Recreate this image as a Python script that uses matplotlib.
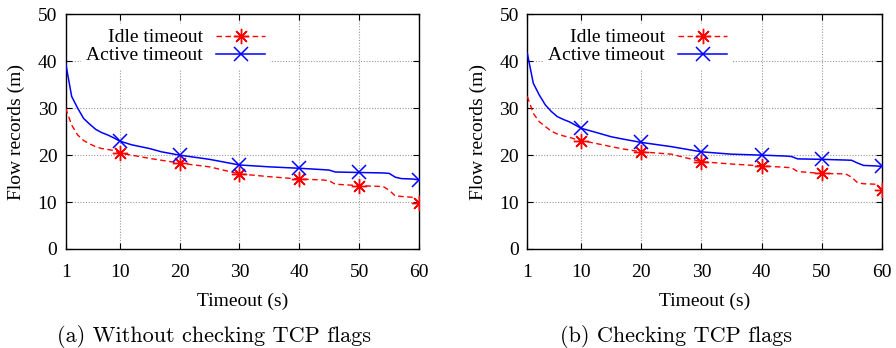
import matplotlib
matplotlib.use("Agg")
import matplotlib.pyplot as plt
import numpy as np

# timeout (s) sample points
x = [1, 2, 3, 4, 5, 6, 7, 8, 9, 10, 12, 15, 17, 20, 25, 30, 35, 40, 44, 45, 46,
     50, 54, 55, 56, 57, 59, 60]

# (a) without checking TCP flags, flow records (millions)
idle_a = [30.0, 26.4, 24.3, 23.1, 22.4, 21.8, 21.4, 21.2, 21.0, 20.4, 20.0, 19.3, 18.9,
          18.3, 17.5, 16.0, 15.4, 14.9, 14.7, 14.5, 13.8, 13.5, 13.3, 12.5, 11.3, 11.2,
          11.0, 9.8]
active_a = [39.6, 32.5, 30.0, 27.8, 26.6, 25.5, 24.8, 24.3, 23.7, 23.0, 22.2, 21.4, 20.7,
            20.0, 19.1, 17.9, 17.5, 17.2, 16.9, 16.8, 16.4, 16.3, 16.2, 16.1, 15.3, 15.0,
            14.9, 14.7]

# (b) checking TCP flags
idle_b = [32.5, 28.9, 27.1, 26.1, 25.1, 24.5, 24.1, 23.8, 23.4, 23.1, 22.6, 21.8, 21.3,
          20.7, 20.2, 18.6, 18.1, 17.7, 17.4, 17.3, 16.5, 16.1, 16.0, 15.3, 14.1, 13.9,
          13.8, 12.6]
active_b = [41.7, 35.3, 32.8, 30.7, 29.3, 28.2, 27.6, 27.1, 26.4, 25.7, 25.0, 23.9, 23.4,
            22.7, 21.8, 20.7, 20.2, 20.0, 19.8, 19.7, 19.2, 19.1, 18.95, 18.9, 18.3, 17.8,
            17.7, 17.6]

marked = [10, 20, 30, 40, 50, 60]
xticks = [1, 10, 20, 30, 40, 50, 60]
captions = ["(a) Without checking TCP flags", "(b) Checking TCP flags"]

plt.rcParams['font.family'] = ['Liberation Serif', 'DejaVu Serif']
plt.rcParams['font.size'] = 14

fig = plt.figure(figsize=(8.96, 3.48), dpi=100)
axes = [fig.add_axes([0.0733, 0.2845, 0.3946, 0.6744]),
        fig.add_axes([0.5885, 0.2845, 0.3955, 0.6744])]
cap_x = [214 / 896, 676 / 896]

every = [i for i, v in enumerate(x) if v in marked]

for ax, idle, active, cap, cx in zip(axes, [idle_a, idle_b], [active_a, active_b],
                                     captions, cap_x):
    ax.plot(x, idle, color='red', lw=1.0, dashes=(4, 2.5), marker=(8, 2, 0),
            markersize=11, markeredgewidth=1.0, markevery=every, label='Idle timeout',
            zorder=3)
    ax.plot(x, active, color='blue', lw=1.1, marker='x', markersize=10,
            markeredgewidth=1.1, markevery=every, label='Active timeout', zorder=3)
    ax.set_xlim(1, 60)
    ax.set_ylim(0, 50)
    ax.set_xticks(xticks)
    ax.set_yticks(range(0, 51, 10))
    ax.grid(True, color='#999999', linestyle=(0, (1, 1.5)), lw=0.8)
    ax.set_axisbelow(True)
    ax.tick_params(direction='in', top=True, right=True, length=4, labelsize=14)
    ax.tick_params(axis='x', pad=11)
    ax.tick_params(axis='y', pad=6)
    for s in ax.spines.values():
        s.set_linewidth(1.0)
    ax.set_xlabel('Timeout (s)', fontsize=14, labelpad=8)
    ax.set_ylabel('Flow records (m)', fontsize=14, labelpad=9)
    leg = ax.legend(loc='upper right', bbox_to_anchor=(0.605, 1.0), markerfirst=False,
                    frameon=True, fancybox=False, edgecolor='none', facecolor='white',
                    framealpha=1.0, handlelength=2.5, handletextpad=0.7,
                    labelspacing=0.02, borderpad=0.25, fontsize=14)
    leg.set_zorder(5)
    fig.text(cx, 0.032, cap, ha='center', va='center', fontsize=16, family='cmr10')

fig.savefig('out.png', dpi=100)
